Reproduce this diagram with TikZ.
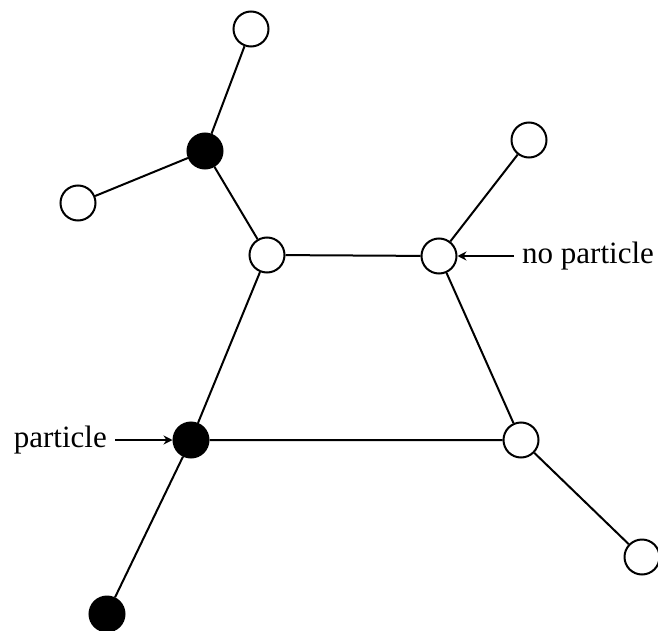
\documentclass[tikz,border=0pt]{standalone}
\usepackage{fontspec}
\setmainfont{Liberation Serif}
\usetikzlibrary{arrows.meta}
\begin{document}
\begin{tikzpicture}[x=1pt,y=-1pt,
  site/.style={circle,draw,line width=2pt,minimum size=35pt,inner sep=0pt,fill=white},
  occ/.style={site,fill=black},
  bond/.style={line width=2pt},
  lbl/.style={font=\fontsize{31}{37}\selectfont,inner sep=0pt},
  ptr/.style={line width=2pt,-{Stealth[length=9pt,width=9pt,inset=3pt]}}]
\useasboundingbox (0,0) rectangle (658,631);
\node[site] (t) at (251,29) {};
\node[occ] (b1) at (205,151) {};
\node[site] (l) at (78,203) {};
\node[site] (m1) at (267,255) {};
\node[site] (m2) at (439,256) {};
\node[site] (tr) at (529,140) {};
\node[occ] (b2) at (191,440) {};
\node[site] (r) at (521,440) {};
\node[site] (br) at (642,557) {};
\node[occ] (b3) at (107,614) {};
\draw[bond] (t) -- (b1) (b1) -- (l) (b1) -- (m1) (m1) -- (m2) (m2) -- (tr)
  (m1) -- (b2) (m2) -- (r) (b2) -- (r) (r) -- (br) (b2) -- (b3);
\node[lbl,anchor=west] (np) at (522,256) {no particle};
\node[lbl,anchor=east] (p) at (107,440) {particle};
\draw[ptr] (np.west) ++(-8,0) coordinate (npa) (npa) -- (m2);
\draw[ptr] (p.east) ++(8,0) coordinate (pa) (pa) -- (b2);
\end{tikzpicture}
\end{document}
